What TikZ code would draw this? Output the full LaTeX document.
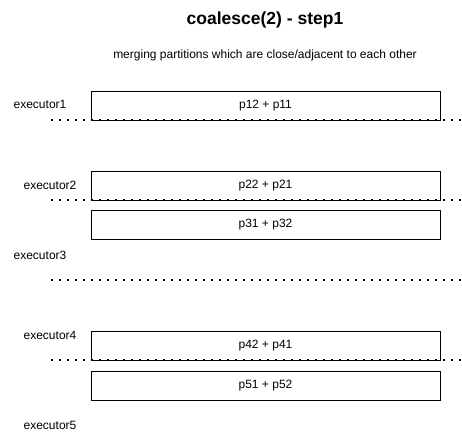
\documentclass[tikz,border=0pt]{standalone}
\usepackage{fontspec}
\setmainfont{Liberation Sans}
\usetikzlibrary{positioning}

\tikzset{
  partbox/.style={draw, line width=0.8pt, minimum width=349pt, minimum height=29pt, inner sep=0pt, font=\fontsize{12}{14}\selectfont},
  execlabel/.style={font=\fontsize{12}{14}\selectfont, inner sep=0pt},
  dotline/.style={line width=1.6pt, dash pattern=on 1.6pt off 6.4pt}
}

\begin{document}
\begin{tikzpicture}[x=1pt,y=-1pt]
        \useasboundingbox (0,0) rectangle (462,440);
        \node[font=\bfseries\fontsize{17.5}{21}\selectfont] (title) at (265,20){coalesce(2) - step1};
        \node[execlabel] (sub) at (265,55){merging partitions which are close/adjacent to each other};
        % partition boxes
        \node[partbox] (b1) at (265.5,105.5){p12 + p11};
        \node[partbox] (b2) at (265.5,185.5){p22 + p21};
        \node[partbox] (b3) at (265.5,225){p31 + p32};
        \node[partbox] (b4) at (265.5,345.5){p42 + p41};
        \node[partbox] (b5) at (265.5,385.5){p51 + p52};
        % executor labels
        \node[execlabel] (e1) at (40,104){executor1};
        \node[execlabel] (e2) at (50,185){executor2};
        \node[execlabel] (e3) at (40,255){executor3};
        \node[execlabel] (e4) at (50,335){executor4};
        \node[execlabel] (e5) at (50,425){executor5};
        % executor boundaries
        \coordinate (l1) at (51,120);
        \coordinate (r1) at (462,120);
        \coordinate (l2) at (51,200);
        \coordinate (r2) at (462,200);
        \coordinate (l3) at (51,280);
        \coordinate (r3) at (462,280);
        \coordinate (l4) at (51,360);
        \coordinate (r4) at (462,360);
        \draw[dotline] (l1)--(r1);
        \draw[dotline] (l2)--(r2);
        \draw[dotline] (l3)--(r3);
        \draw[dotline] (l4)--(r4);
    \end{tikzpicture}
\end{document}
